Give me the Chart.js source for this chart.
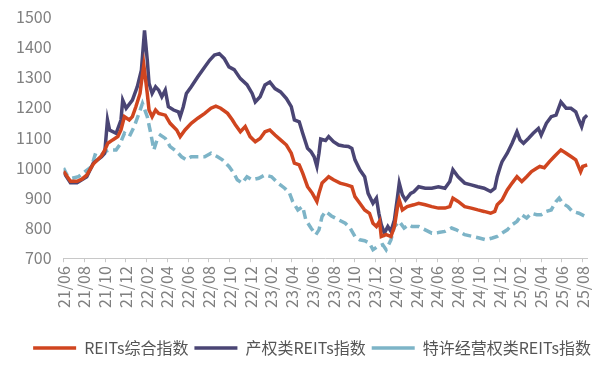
<!DOCTYPE html>
<html>
<head>
<meta charset="utf-8">
<script src="https://cdn.jsdelivr.net/npm/chart.js@4/dist/chart.umd.min.js"></script>
<style>
  body { margin: 0; background: #fff; }
  #wrap { width: 606px; height: 366px; }
</style>
</head>
<body>
<div id="wrap"><canvas id="reitsChart" width="606" height="366"></canvas></div>
<script>
// REITs综合指数
var compDates = ["2021-06-01","2021-06-21","2021-07-10","2021-07-24","2021-08-08","2021-08-27","2021-09-21","2021-09-30","2021-10-09","2021-10-23","2021-11-08","2021-11-17","2021-11-27","2021-12-11","2021-12-20","2021-12-30","2022-01-12","2022-01-18","2022-01-23","2022-02-03","2022-02-08","2022-02-17","2022-02-27","2022-03-06","2022-03-25","2022-04-09","2022-04-28","2022-05-08","2022-05-22","2022-06-10","2022-06-29","2022-07-19","2022-08-07","2022-08-21","2022-09-05","2022-09-25","2022-10-09","2022-10-18","2022-11-02","2022-11-16","2022-11-30","2022-12-15","2022-12-29","2023-01-13","2023-01-27","2023-02-12","2023-02-28","2023-03-15","2023-03-29","2023-04-08","2023-04-22","2023-05-02","2023-05-16","2023-05-30","2023-06-13","2023-06-19","2023-06-28","2023-07-08","2023-07-17","2023-08-01","2023-08-20","2023-09-09","2023-09-24","2023-10-03","2023-10-17","2023-11-01","2023-11-15","2023-11-25","2023-12-05","2023-12-14","2023-12-19","2024-01-03","2024-01-17","2024-01-27","2024-02-06","2024-02-11","2024-02-20","2024-03-04","2024-03-23","2024-04-07","2024-04-26","2024-05-15","2024-06-04","2024-06-23","2024-07-07","2024-07-16","2024-08-01","2024-08-20","2024-09-09","2024-09-28","2024-10-16","2024-11-05","2024-11-17","2024-11-24","2024-12-08","2024-12-23","2025-01-07","2025-01-21","2025-02-05","2025-02-19","2025-03-03","2025-03-18","2025-03-27","2025-04-10","2025-04-25","2025-05-09","2025-05-28","2025-06-13","2025-06-27","2025-07-11","2025-07-25","2025-08-01","2025-08-14"];
var compValues = [988,955,955,962,975,1012,1040,1058,1081,1092,1103,1125,1169,1158,1169,1202,1246,1300,1340,1246,1191,1169,1191,1180,1174,1147,1125,1103,1125,1147,1164,1180,1197,1204,1197,1180,1158,1141,1119,1136,1103,1086,1097,1119,1125,1108,1092,1075,1048,1015,1009,982,937,915,888,915,949,960,970,960,949,943,937,904,882,860,849,816,805,822,772,778,772,805,871,893,860,871,877,882,877,871,866,866,871,899,888,871,866,860,855,849,855,877,893,926,949,970,954,970,987,998,1004,1000,1020,1037,1059,1048,1037,1026,987,1004,1009];

// 产权类REITs指数
var propDates = ["2021-06-01","2021-06-21","2021-07-10","2021-07-24","2021-08-08","2021-08-27","2021-09-21","2021-09-30","2021-10-08","2021-10-14","2021-11-03","2021-11-17","2021-11-22","2021-12-02","2021-12-20","2022-01-04","2022-01-16","2022-01-25","2022-02-03","2022-02-08","2022-02-17","2022-02-27","2022-03-06","2022-03-15","2022-03-25","2022-04-04","2022-04-19","2022-05-03","2022-05-08","2022-05-17","2022-05-26","2022-06-10","2022-06-29","2022-07-19","2022-08-03","2022-08-17","2022-09-01","2022-09-15","2022-09-29","2022-10-14","2022-11-02","2022-11-21","2022-12-06","2022-12-15","2022-12-29","2023-01-13","2023-01-27","2023-02-12","2023-02-28","2023-03-15","2023-03-29","2023-04-08","2023-04-22","2023-05-02","2023-05-16","2023-05-26","2023-06-05","2023-06-13","2023-06-19","2023-06-24","2023-07-08","2023-07-17","2023-08-01","2023-08-16","2023-08-30","2023-09-14","2023-09-24","2023-10-03","2023-10-17","2023-11-01","2023-11-11","2023-11-25","2023-12-05","2023-12-12","2023-12-19","2023-12-28","2024-01-08","2024-01-17","2024-01-27","2024-02-06","2024-02-11","2024-02-20","2024-02-29","2024-03-14","2024-03-23","2024-04-07","2024-04-26","2024-05-15","2024-06-04","2024-06-23","2024-07-07","2024-07-16","2024-08-01","2024-08-20","2024-09-09","2024-09-28","2024-10-16","2024-11-05","2024-11-17","2024-11-24","2024-12-03","2024-12-08","2024-12-23","2025-01-07","2025-01-21","2025-01-30","2025-02-10","2025-02-24","2025-03-08","2025-03-23","2025-04-01","2025-04-16","2025-04-30","2025-05-14","2025-05-28","2025-06-13","2025-06-27","2025-07-11","2025-07-20","2025-07-28","2025-08-05","2025-08-14"];
var propValues = [985,950,950,960,970,1015,1036,1048,1158,1125,1114,1158,1224,1197,1224,1268,1323,1455,1356,1280,1246,1268,1257,1235,1257,1202,1191,1185,1169,1202,1246,1268,1301,1334,1356,1373,1378,1362,1334,1325,1295,1275,1246,1218,1235,1274,1284,1262,1251,1229,1202,1158,1152,1114,1064,1053,1036,1004,1048,1095,1090,1103,1086,1075,1072,1070,1064,1026,993,970,915,882,899,849,811,783,805,789,827,904,949,910,893,915,920,937,932,932,937,932,954,993,970,949,943,937,932,921,932,970,1004,1020,1048,1081,1119,1092,1081,1097,1114,1130,1108,1147,1169,1174,1218,1197,1197,1185,1158,1136,1164,1174];

// 特许经营权类REITs指数
var franDates = ["2021-06-01","2021-06-11","2021-06-26","2021-07-14","2021-08-03","2021-08-22","2021-09-02","2021-09-16","2021-09-30","2021-10-14","2021-11-03","2021-11-13","2021-11-27","2021-12-11","2021-12-25","2022-01-09","2022-01-19","2022-02-03","2022-02-13","2022-02-22","2022-03-01","2022-03-11","2022-03-25","2022-04-09","2022-04-28","2022-05-12","2022-05-26","2022-06-10","2022-06-29","2022-07-19","2022-08-07","2022-08-26","2022-09-10","2022-09-29","2022-10-13","2022-10-23","2022-11-07","2022-11-21","2022-12-06","2022-12-25","2023-01-13","2023-02-02","2023-02-21","2023-03-10","2023-03-24","2023-04-03","2023-04-18","2023-05-02","2023-05-11","2023-05-26","2023-06-10","2023-06-19","2023-06-28","2023-07-08","2023-07-25","2023-08-16","2023-09-05","2023-09-19","2023-10-03","2023-10-17","2023-11-01","2023-11-15","2023-11-25","2023-12-09","2023-12-23","2024-01-03","2024-01-17","2024-01-27","2024-02-11","2024-02-25","2024-03-09","2024-03-18","2024-04-07","2024-04-26","2024-05-15","2024-06-04","2024-06-23","2024-07-12","2024-07-26","2024-08-20","2024-09-13","2024-10-02","2024-10-21","2024-11-10","2024-11-24","2024-12-08","2024-12-23","2025-01-07","2025-01-21","2025-02-05","2025-02-19","2025-03-03","2025-03-18","2025-04-01","2025-04-16","2025-04-30","2025-05-14","2025-05-23","2025-06-03","2025-06-18","2025-07-01","2025-07-20","2025-08-09"];
var franValues = [999,976,965,970,987,1003,1042,1036,1053,1059,1059,1075,1114,1103,1136,1180,1213,1169,1114,1059,1092,1108,1097,1070,1053,1036,1026,1036,1036,1036,1048,1036,1026,1004,982,960,949,970,960,965,976,970,949,932,915,888,860,871,827,800,778,794,838,855,840,827,816,800,772,761,758,750,728,739,745,728,761,805,822,800,811,805,805,794,783,785,789,800,794,778,772,767,761,767,772,783,794,811,822,844,833,849,844,844,855,860,888,899,882,871,855,849,838];

var seriesNames = ["REITs综合指数", "产权类REITs指数", "特许经营权类REITs指数"];
var seriesColors = ["#D0451F", "#4A4574", "#7DB4C7"];

function monthIndex(d) {
  var p = d.split("-").map(Number);
  return (p[0] - 2021) * 12 + (p[1] - 6) + (p[2] - 1) / 30;
}
function toPoints(dates, values) {
  return dates.map(function (d, i) { return { x: monthIndex(d), y: values[i] }; });
}

var fontFam = "'Noto Sans CJK SC', 'Noto Sans', sans-serif";

new Chart(document.getElementById("reitsChart"), {
  type: "line",
  data: {
    datasets: [{
      label: seriesNames[0],
      data: toPoints(compDates, compValues),
      borderColor: seriesColors[0],
      backgroundColor: seriesColors[0],
      borderWidth: 3.5
    }, {
      label: seriesNames[1],
      data: toPoints(propDates, propValues),
      borderColor: seriesColors[1],
      backgroundColor: seriesColors[1],
      borderWidth: 3.5
    }, {
      label: seriesNames[2],
      data: toPoints(franDates, franValues),
      borderColor: seriesColors[2],
      backgroundColor: seriesColors[2],
      borderWidth: 3.5,
      borderDash: [9, 5]
    }]
  },
  options: {
    responsive: false,
    animation: false,
    layout: { padding: { left: 4, right: 9, top: 0, bottom: 0 } },
    elements: { point: { radius: 0 }, line: { tension: 0 } },
    plugins: {
      tooltip: { enabled: false },
      legend: {
        position: "bottom",
        align: "end",
        labels: {
          usePointStyle: true,
          pointStyle: "line",
          pointStyleWidth: 43,
          padding: 6,
          color: "#555555",
          font: { family: fontFam, size: 16 }
        }
      }
    },
    scales: {
      x: {
        type: "linear",
        min: 0,
        max: 50.5,
        grid: { drawOnChartArea: false, color: "#c8c8c8", tickLength: 4 },
        border: { color: "#c8c8c8" },
        afterFit: function (scale) { scale.height += 22; },
        ticks: {
          stepSize: 2,
          includeBounds: false,
          autoSkip: false,
          maxRotation: 90,
          minRotation: 90,
          padding: 4,
          color: "#808080",
          font: { family: fontFam, size: 16 },
          callback: function (v) {
            var total = 5 + v;
            var yy = 21 + Math.floor(total / 12);
            var mm = (total % 12) + 1;
            return yy + "/" + (mm < 10 ? "0" + mm : mm);
          }
        }
      },
      y: {
        min: 700,
        max: 1500,
        grid: { display: false, drawTicks: false },
        border: { display: false },
        ticks: {
          stepSize: 100,
          padding: 12,
          color: "#808080",
          font: { family: fontFam, size: 16, lineHeight: 0.6 },
          callback: function (v) { return String(v); }
        }
      }
    }
  }
});
</script>
</body>
</html>
